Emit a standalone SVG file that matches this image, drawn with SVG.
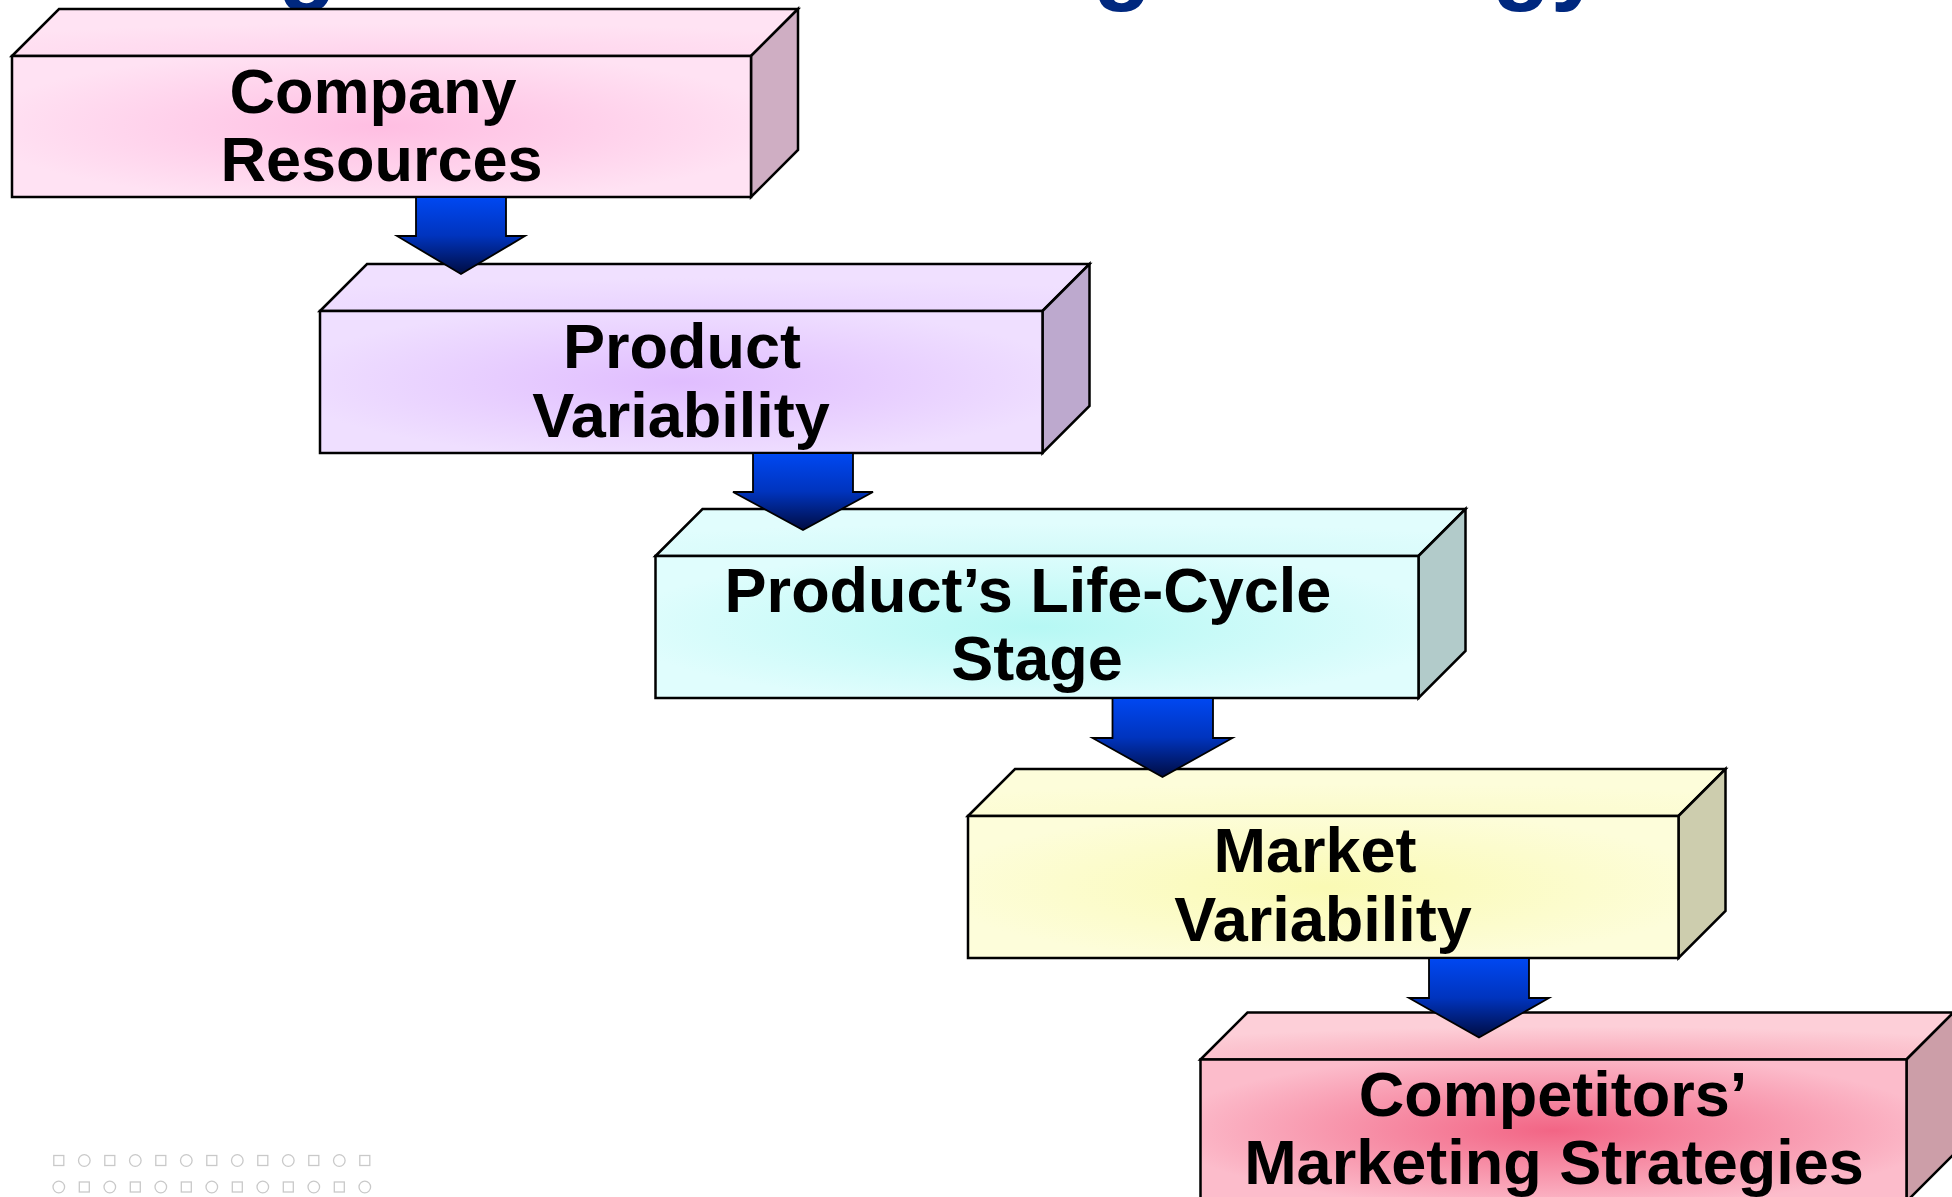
<svg xmlns="http://www.w3.org/2000/svg" width="1952" height="1197" viewBox="0 0 1952 1197">
<style>
  .edge { stroke: #000; stroke-width: 2.5; stroke-linejoin: miter; }
  .lbl { font-family: "Liberation Sans", Arial, Helvetica, sans-serif; font-weight: bold; font-size: 63px; fill: #000; text-anchor: middle; }
  .title { font-family: "Liberation Sans", Arial, Helvetica, sans-serif; font-weight: bold; font-size: 96px; fill: #00287F; }
  .arrow { fill: url(#arrowGrad); stroke: #000; stroke-width: 1.8; stroke-linejoin: miter; }
  .deco { fill: none; stroke: #C9C9C9; stroke-width: 1.3; }
</style>
<defs>
  <linearGradient id="arrowGrad" x1="0" y1="0" x2="0" y2="1">
    <stop offset="0" stop-color="#0048F2"/>
    <stop offset="0.5" stop-color="#0034BE"/>
    <stop offset="1" stop-color="#000C42"/>
  </linearGradient>

  <radialGradient id="f1" cx="0.5" cy="0.5" r="0.55">
    <stop offset="0" stop-color="#FFBEE2"/>
    <stop offset="1" stop-color="#FFE2F3"/>
  </radialGradient>
  <radialGradient id="t1" cx="0.5" cy="1" r="0.7">
    <stop offset="0" stop-color="#FFD3EC"/>
    <stop offset="1" stop-color="#FFE3F3"/>
  </radialGradient>

  <radialGradient id="f2" cx="0.5" cy="0.5" r="0.55">
    <stop offset="0" stop-color="#E0BDFF"/>
    <stop offset="1" stop-color="#EFDFFF"/>
  </radialGradient>
  <radialGradient id="t2" cx="0.5" cy="1" r="0.7">
    <stop offset="0" stop-color="#E9D3FF"/>
    <stop offset="1" stop-color="#F0E0FF"/>
  </radialGradient>

  <radialGradient id="f3" cx="0.5" cy="0.5" r="0.55">
    <stop offset="0" stop-color="#B6F8F4"/>
    <stop offset="1" stop-color="#E0FDFD"/>
  </radialGradient>
  <radialGradient id="t3" cx="0.5" cy="1" r="0.7">
    <stop offset="0" stop-color="#D2FAF9"/>
    <stop offset="1" stop-color="#E1FDFD"/>
  </radialGradient>

  <radialGradient id="f4" cx="0.5" cy="0.5" r="0.55">
    <stop offset="0" stop-color="#FAFAB4"/>
    <stop offset="1" stop-color="#FDFDDA"/>
  </radialGradient>
  <radialGradient id="t4" cx="0.5" cy="1" r="0.7">
    <stop offset="0" stop-color="#FBFBCA"/>
    <stop offset="1" stop-color="#FDFDDA"/>
  </radialGradient>

  <radialGradient id="f5" cx="0.5" cy="0.5" r="0.55">
    <stop offset="0" stop-color="#F26585"/>
    <stop offset="1" stop-color="#FCBCCB"/>
  </radialGradient>
  <radialGradient id="t5" cx="0.5" cy="1" r="0.7">
    <stop offset="0" stop-color="#F8A6B7"/>
    <stop offset="1" stop-color="#FDCFD8"/>
  </radialGradient>
</defs>

<rect x="0" y="0" width="1952" height="1197" fill="#FFFFFF"/>

<g id="title">
  <text class="title" y="-8"><tspan x="-106">Choosing a</tspan><tspan x="426">Market-Coverage</tspan><tspan x="1220">Strategy</tspan></text>
</g>

<g id="decoration">
  <rect class="deco" x="53.8" y="1155.5" width="10" height="10"/>
  <circle class="deco" cx="84.3" cy="1160.5" r="5.8"/>
  <rect class="deco" x="104.8" y="1155.5" width="10" height="10"/>
  <circle class="deco" cx="135.3" cy="1160.5" r="5.8"/>
  <rect class="deco" x="155.8" y="1155.5" width="10" height="10"/>
  <circle class="deco" cx="186.3" cy="1160.5" r="5.8"/>
  <rect class="deco" x="206.8" y="1155.5" width="10" height="10"/>
  <circle class="deco" cx="237.3" cy="1160.5" r="5.8"/>
  <rect class="deco" x="257.8" y="1155.5" width="10" height="10"/>
  <circle class="deco" cx="288.3" cy="1160.5" r="5.8"/>
  <rect class="deco" x="308.8" y="1155.5" width="10" height="10"/>
  <circle class="deco" cx="339.3" cy="1160.5" r="5.8"/>
  <rect class="deco" x="359.8" y="1155.5" width="10" height="10"/>

  <circle class="deco" cx="58.8" cy="1187" r="5.8"/>
  <rect class="deco" x="79.3" y="1182" width="10" height="10"/>
  <circle class="deco" cx="109.8" cy="1187" r="5.8"/>
  <rect class="deco" x="130.3" y="1182" width="10" height="10"/>
  <circle class="deco" cx="160.8" cy="1187" r="5.8"/>
  <rect class="deco" x="181.3" y="1182" width="10" height="10"/>
  <circle class="deco" cx="211.8" cy="1187" r="5.8"/>
  <rect class="deco" x="232.3" y="1182" width="10" height="10"/>
  <circle class="deco" cx="262.8" cy="1187" r="5.8"/>
  <rect class="deco" x="283.3" y="1182" width="10" height="10"/>
  <circle class="deco" cx="313.8" cy="1187" r="5.8"/>
  <rect class="deco" x="334.3" y="1182" width="10" height="10"/>
  <circle class="deco" cx="364.8" cy="1187" r="5.8"/>
</g>

<g id="node-company-resources">
  <polygon class="edge" fill="url(#t1)" points="12,56 59,9 798,9 751,56"/>
  <polygon class="edge" fill="#CFAEC3" points="751,56 798,9 798,150 751,197"/>
  <rect class="edge" fill="url(#f1)" x="12" y="56" width="739" height="141"/>
  <text class="lbl"><tspan x="373" y="112.5">Company</tspan><tspan x="381.5" y="181">Resources</tspan></text>
</g>

<g id="node-product-variability">
  <polygon class="edge" fill="url(#t2)" points="320,311 367,264 1089.5,264 1042.5,311"/>
  <polygon class="edge" fill="#BDA9CE" points="1042.5,311 1089.5,264 1089.5,406 1042.5,453"/>
  <rect class="edge" fill="url(#f2)" x="320" y="311" width="722.5" height="142"/>
  <text class="lbl"><tspan x="682" y="368">Product</tspan><tspan x="681" y="436.5">Variability</tspan></text>
</g>

<g id="node-life-cycle-stage">
  <polygon class="edge" fill="url(#t3)" points="655.5,556 702.5,509 1465.5,509 1418.5,556"/>
  <polygon class="edge" fill="#B2CBCA" points="1418.5,556 1465.5,509 1465.5,651 1418.5,698"/>
  <rect class="edge" fill="url(#f3)" x="655.5" y="556" width="763" height="142"/>
  <text class="lbl"><tspan x="1028" y="611.5">Product’s Life-Cycle</tspan><tspan x="1037" y="679.5">Stage</tspan></text>
</g>

<g id="node-market-variability">
  <polygon class="edge" fill="url(#t4)" points="968,816 1015,769 1725.5,769 1678.5,816"/>
  <polygon class="edge" fill="#CDCDAE" points="1678.5,816 1725.5,769 1725.5,911 1678.5,958"/>
  <rect class="edge" fill="url(#f4)" x="968" y="816" width="710.5" height="142"/>
  <text class="lbl"><tspan x="1315" y="871.5">Market</tspan><tspan x="1323" y="940.5">Variability</tspan></text>
</g>

<g id="node-competitors-strategies">
  <polygon class="edge" fill="url(#t5)" points="1200.5,1059.5 1247.5,1012.5 1953.5,1012.5 1906.5,1059.5"/>
  <polygon class="edge" fill="#CC9EA8" points="1906.5,1059.5 1953.5,1012.5 1953.5,1154.5 1906.5,1201.5"/>
  <rect class="edge" fill="url(#f5)" x="1200.5" y="1059.5" width="706" height="142"/>
  <text class="lbl"><tspan x="1553" y="1115.5">Competitors’</tspan><tspan x="1554" y="1183.5">Marketing Strategies</tspan></text>
</g>

<g id="connectors">
  <polygon class="arrow" points="416,197 506,197 506,236 525,236 461,274 397,236 416,236"/>
  <polygon class="arrow" points="753,453 853,453 853,492 873,492 803,530 733,492 753,492"/>
  <polygon class="arrow" points="1112.5,698 1213,698 1213,738 1232.5,738 1162.5,777 1092.5,738 1112.5,738"/>
  <polygon class="arrow" points="1429,958 1529,958 1529,998 1549,998 1479,1037.5 1409,998 1429,998"/>
</g>
</svg>
